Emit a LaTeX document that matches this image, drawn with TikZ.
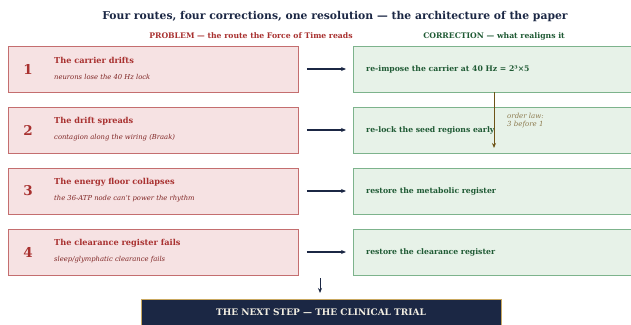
\documentclass[tikz,border=0pt]{standalone}
\usepackage{fontspec}
\setmainfont{DejaVu Serif}
\usepackage{xcolor}
\usetikzlibrary{arrows.meta, positioning}

\definecolor{navy}{HTML}{1B2744}
\definecolor{probred}{HTML}{A8302F}
\definecolor{probfill}{HTML}{F6E2E3}
\definecolor{probline}{HTML}{C46E6F}
\definecolor{corrgreen}{HTML}{1F5A34}
\definecolor{corrfill}{HTML}{E7F2E8}
\definecolor{corrline}{HTML}{7DB38C}
\definecolor{lawbrown}{HTML}{6E5418}
\definecolor{lawtext}{HTML}{8C7A4E}
\definecolor{gold}{HTML}{C9A860}
\definecolor{cream}{HTML}{F2EEE2}

\begin{document}
\begin{tikzpicture}[x=1pt, y=-1pt,
    probbox/.style={draw=probline, fill=probfill, line width=0.8pt, minimum width=290pt, minimum height=46pt, anchor=west},
    corrbox/.style={draw=corrline, fill=corrfill, line width=0.8pt, minimum width=290pt, minimum height=46pt, anchor=west},
    probnum/.style={text=probred, font=\bfseries\fontsize{13.5}{15}\selectfont},
    probtitle/.style={text=probred, anchor=west, inner sep=0pt, font=\bfseries\fontsize{8.2}{10}\selectfont},
    probsub/.style={text=probred!75!black, anchor=west, inner sep=0pt, font=\itshape\fontsize{6.8}{8}\selectfont},
    corrtext/.style={text=corrgreen, anchor=west, inner sep=0pt, font=\bfseries\fontsize{7.7}{9}\selectfont},
    arr/.style={-{Stealth[length=5pt, width=4pt]}, draw=navy, line width=1.1pt}]
  \clip (0,0) rectangle (631,324);
  \fill[white] (0,0) rectangle (631,324);

  % heading and column labels
  \node[text=navy, font=\bfseries\fontsize{10.8}{13}\selectfont] (title) at (335,17) {Four routes, four corrections, one resolution — the architecture of the paper};
  \node[text=probred, font=\bfseries\fontsize{7.7}{9}\selectfont] (probhead) at (251,36) {PROBLEM — the route the Force of Time reads};
  \node[text=corrgreen, font=\bfseries\fontsize{7.7}{9}\selectfont] (corrhead) at (494,36) {CORRECTION — what realigns it};

  % problem column
  \node[probbox] (p1) at (8,69) {};
  \node[probnum] (n1) at (28,69) {1};
  \node[probtitle] (t1) at (54,60) {The carrier drifts};
  \node[probsub] (s1) at (54,77) {neurons lose the 40 Hz lock};

  \node[probbox] (p2) at (8,130) {};
  \node[probnum] (n2) at (28,130) {2};
  \node[probtitle] (t2) at (54,121) {The drift spreads};
  \node[probsub] (s2) at (54,138) {contagion along the wiring (Braak)};

  \node[probbox] (p3) at (8,191) {};
  \node[probnum] (n3) at (28,191) {3};
  \node[probtitle] (t3) at (54,182) {The energy floor collapses};
  \node[probsub] (s3) at (54,199) {the 36-ATP node can't power the rhythm};

  \node[probbox] (p4) at (8,252) {};
  \node[probnum] (n4) at (28,252) {4};
  \node[probtitle] (t4) at (54,243) {The clearance register fails};
  \node[probsub] (s4) at (54,260) {sleep/glymphatic clearance fails};

  % correction column
  \node[corrbox] (c1) at (353,69) {};
  \node[corrtext] (r1) at (366,69) {re-impose the carrier at 40 Hz = 2³×5};
  \node[corrbox] (c2) at (353,130) {};
  \node[corrtext] (r2) at (366,130) {re-lock the seed regions early};
  \node[corrbox] (c3) at (353,191) {};
  \node[corrtext] (r3) at (366,191) {restore the metabolic register};
  \node[corrbox] (c4) at (353,252) {};
  \node[corrtext] (r4) at (366,252) {restore the clearance register};

  \draw[arr, shorten <=8pt, shorten >=7pt] (p1) -- (c1);
  \draw[arr, shorten <=8pt, shorten >=7pt] (p2) -- (c2);
  \draw[arr, shorten <=8pt, shorten >=7pt] (p3) -- (c3);
  \draw[arr, shorten <=8pt, shorten >=7pt] (p4) -- (c4);

  % order law: 3 before 1
  \coordinate (lawend) at (494,148);
  \draw[-{Stealth[length=5pt, width=4pt]}, draw=lawbrown, line width=1pt] (lawend |- c1.south) -- (lawend);
  \node[text=lawtext, anchor=north west, align=left, inner sep=0pt, font=\itshape\fontsize{7}{7.5}\selectfont] (law) at (507,113) {order law:\\3 before 1};

  % next step
  \node[draw=gold, fill=navy, line width=0.8pt, minimum width=360pt, minimum height=26pt, anchor=north, text=cream, font=\bfseries\fontsize{9}{10}\selectfont] (trial) at (321,299) {THE NEXT STEP — THE CLINICAL TRIAL};
  \coordinate (gap) at (320,278);
  \draw[arr, line width=0.9pt, shorten >=6pt] (gap) -- (gap |- trial.north);
\end{tikzpicture}
\end{document}
